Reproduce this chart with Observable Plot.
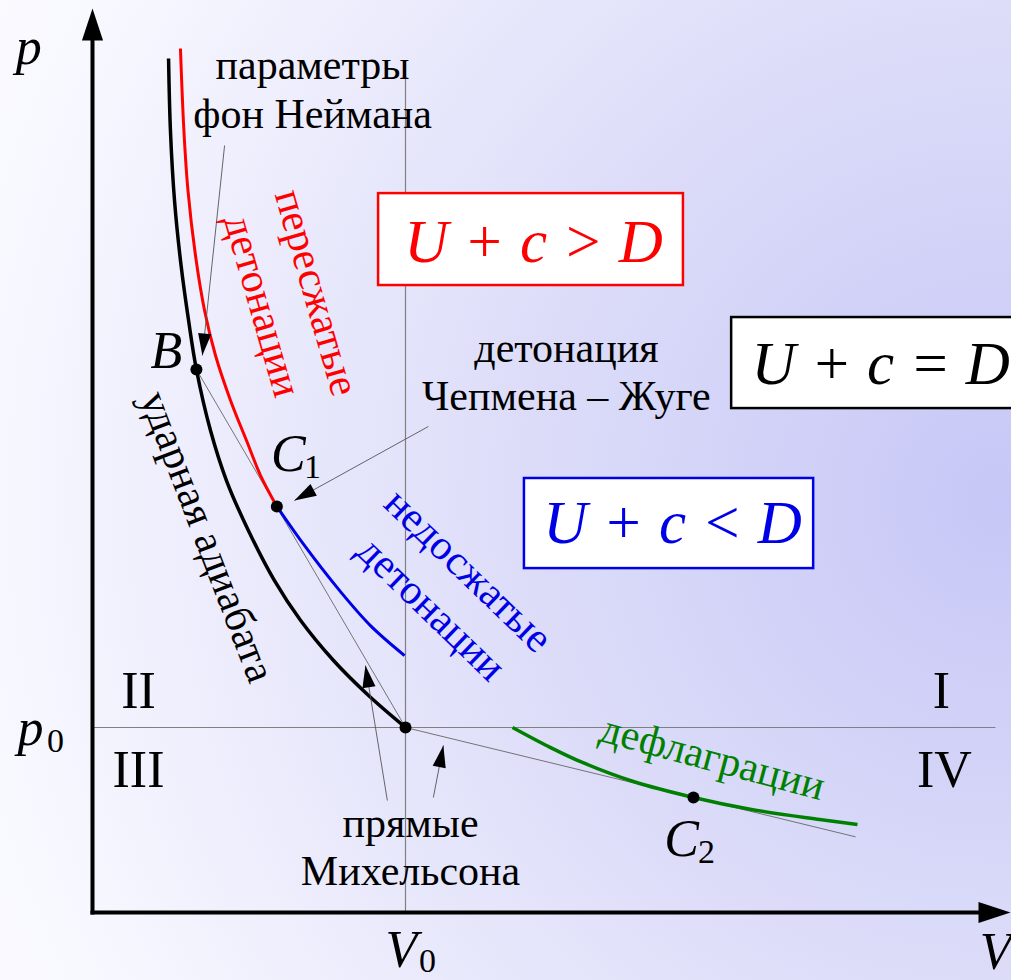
<!DOCTYPE html>
<html>
<head>
<meta charset="utf-8">
<script src="https://cdn.jsdelivr.net/npm/d3@7"></script>
<script src="https://cdn.jsdelivr.net/npm/@observablehq/plot@0.6"></script>
<style>
  html, body { margin: 0; padding: 0; overflow: hidden; background: #fff; }
  #chart svg { display: block; }
</style>
</head>
<body>
<div id="chart"></div>
<script>
// ---------- data (V in units of V0, p in units of p0) ----------
const hugoniot = [[0.243,4.616],[0.249,4.227],[0.262,3.849],[0.283,3.497],[0.307,3.200],[0.332,2.935],[0.377,2.605],[0.428,2.335],[0.498,2.065],[0.581,1.795],[0.665,1.578],[0.770,1.362],[0.882,1.173],[1.000,1.000]];
const overdriven = [[0.281,4.670],[0.292,4.227],[0.305,3.903],[0.329,3.551],[0.358,3.254],[0.393,3.011],[0.441,2.768],[0.492,2.551],[0.537,2.362],[0.589,2.195]];
const underdriven = [[0.589,2.195],[0.677,1.984],[0.789,1.741],[0.888,1.551],[0.997,1.389]];
const deflagration = [[1.342,1.000],[1.457,0.897],[1.565,0.811],[1.728,0.708],[1.920,0.622],[2.105,0.557],[2.323,0.503],[2.444,0.476]];
const initialState = [1, 1];
const pointB = [0.332, 2.935];
const pointC1 = [0.589, 2.195];
const pointC2 = [1.920, 0.622];
const keyPoints = [pointB, pointC1, initialState, pointC2];
const rayleighLines = [
  {from: pointB, to: initialState},
  {from: initialState, to: [2.438, 0.409]}
];
const refLines = [
  {from: [1, 0], to: [1, 4.508]},        // V = V0
  {from: [0, 1], to: [2.885, 1]}         // p = p0
];
const pointers = [
  {from: [0.422, 4.146], to: [0.351, 3.011]},
  {from: [1.073, 2.627], to: [0.645, 2.227]},
  {from: [0.942, 0.605], to: [0.872, 1.335]},
  {from: [1.089, 0.622], to: [1.121, 0.903]}
];
const axisTips = {p: 4.886, V: 2.933};

// text
const notes = [
  {V: 0.703, p: 4.243, text: "параметры\nфон Неймана"},
  {V: 1.514, p: 2.714, text: "детонация\nЧепмена – Жуге"},
  {V: 1.016, p: 0.146, text: "прямые\nМихельсона"}
];
const regions = [
  {V: 0.147, p: 1.103, text: "II"},
  {V: 2.712, p: 1.103, text: "I"},
  {V: 0.147, p: 0.676, text: "III"},
  {V: 2.722, p: 0.676, text: "IV"}
];
const letters = [
  {V: -0.204, p: 4.584, text: "p"},
  {V: -0.198, p: 0.908, text: "p"},
  {V: 0.987, p: -0.297, text: "V"},
  {V: 2.885, p: -0.303, text: "V"},
  {V: 0.236, p: 2.941, text: "B"},
  {V: 0.626, p: 2.389, text: "C"},
  {V: 1.882, p: 0.308, text: "C"}
];
const subscripts = [
  {V: -0.118, p: 0.865, text: "0"},
  {V: 1.070, p: -0.324, text: "0"},
  {V: 0.703, p: 2.346, text: "1"},
  {V: 1.962, p: 0.270, text: "2"}
];
const boxOver = [{x1: 0.914, x2: 1.888, y1: 3.389, y2: 3.886, text: "U + c > D", tx: 1.409, ty: 3.514}];
const boxCJ = [{x1: 2.042, x2: 2.960, y1: 2.724, y2: 3.216, text: "U + c = D", tx: 2.518, ty: 2.859}];
const boxUnder = [{x1: 1.380, x2: 2.304, y1: 1.859, y2: 2.346, text: "U + c < D", tx: 1.853, ty: 1.995}];

// ---------- layout ----------
const W = 1011, H = 980, ML = 92, MB = 68;
const xUnit = 313, yUnit = 185;   // px per V0 and per p0
const FONT = "Liberation Serif";
const RED = "#ff0000", BLUE = "#0000e6", GREEN = "#008000";

const head = (ratio) => ({
  draw(ctx, size) {
    const L = Math.sqrt(size / Math.PI), w = L * ratio / 2;
    ctx.moveTo(0, 0); ctx.lineTo(-w, L); ctx.lineTo(w, L); ctx.closePath();
  }
});
const rot = (a, b) => Math.atan2((b[0] - a[0]) * xUnit, (b[1] - a[1]) * yUnit) * 180 / Math.PI;

const curve = (data, color, w) => Plot.line(data, {x: d => d[0], y: d => d[1], curve: "catmull-rom", stroke: color, strokeWidth: w, strokeLinecap: "butt"});
const link = (data, color, w) => Plot.link(data, {x1: d => d.from[0], y1: d => d.from[1], x2: d => d.to[0], y2: d => d.to[1], stroke: color, strokeWidth: w});
const rotText = (datum, color, angle) => Plot.text([datum], {x: "V", y: "p", text: "text", rotate: angle, fill: color, fontSize: 42, fontFamily: FONT, textAnchor: "middle", lineAnchor: "middle"});
const formula = (box, color) => [
  Plot.rect(box, {x1: "x1", x2: "x2", y1: "y1", y2: "y2", fill: "white", stroke: color, strokeWidth: 2.5}),
  Plot.text(box, {x: "tx", y: "ty", text: "text", fill: color, fontSize: 61, fontStyle: "italic", fontFamily: FONT, textAnchor: "middle", lineAnchor: "bottom"})
];

const plot = Plot.plot({
  width: W, height: H,
  marginLeft: ML, marginRight: 0, marginTop: 0, marginBottom: MB,
  x: {domain: [0, (W - ML) / xUnit], axis: null},
  y: {domain: [0, (H - MB) / yUnit], axis: null},
  style: {
    background: "radial-gradient(circle at 1000px 500px, #c7c7f7 0px, #dcdcf9 470px, #f7f7ff 1000px, #fdfdff 1250px)",
    fontFamily: FONT, overflow: "visible"
  },
  marks: [
    // reference lines V0, p0
    link(refLines, "#808080", 1.2),
    // axes
    Plot.link([{from: [0, 0], to: [0, axisTips.p - 0.16]}, {from: [0, 0], to: [axisTips.V - 0.09, 0]}],
      {x1: d => d.from[0], y1: d => d.from[1], x2: d => d.to[0], y2: d => d.to[1], stroke: "black", strokeWidth: 4, strokeLinecap: "square"}),
    Plot.dot([{V: 0, p: axisTips.p, a: 0}, {V: axisTips.V, p: 0, a: 90}],
      {x: "V", y: "p", rotate: "a", r: 32, symbol: head(0.66), fill: "black", stroke: "none"}),
    // Rayleigh (Michelson) lines
    link(rayleighLines, "#666666", 0.9),
    // curves
    curve(hugoniot, "black", 3.5),
    curve(overdriven, RED, 3),
    curve(underdriven, BLUE, 3),
    curve(deflagration, GREEN, 3.5),
    // pointer lines + heads
    link(pointers, "#555555", 0.9),
    Plot.dot(pointers, {x: d => d.to[0], y: d => d.to[1], rotate: d => rot(d.from, d.to), r: 22, symbol: head(0.6), fill: "black", stroke: "none"}),
    // key points
    Plot.dot(keyPoints, {x: d => d[0], y: d => d[1], r: 6, fill: "black", stroke: "none"}),
    // formula boxes
    ...formula(boxOver, RED),
    ...formula(boxCJ, "black"),
    ...formula(boxUnder, BLUE),
    // notes
    Plot.text(notes, {x: "V", y: "p", text: "text", fontSize: 42, fontFamily: FONT, lineHeight: 1.16, textAnchor: "middle", lineAnchor: "bottom", fill: "black"}),
    // curve labels
    rotText({V: 0.716, p: 3.351, text: "пересжатые"}, RED, 74),
    rotText({V: 0.543, p: 3.281, text: "детонации"}, RED, 74),
    rotText({V: 1.201, p: 1.849, text: "недосжатые"}, BLUE, 44),
    rotText({V: 1.083, p: 1.643, text: "детонации"}, BLUE, 44),
    rotText({V: 0.367, p: 2.032, text: "ударная адиабата"}, "black", 69),
    rotText({V: 1.981, p: 0.838, text: "дефлаграции"}, GREEN, 15),
    // region numerals
    Plot.text(regions, {x: "V", y: "p", text: "text", fontSize: 52, fontFamily: FONT, textAnchor: "middle", lineAnchor: "bottom", fill: "black"}),
    // symbols
    Plot.text(letters, {x: "V", y: "p", text: "text", fontSize: 52, fontStyle: "italic", fontFamily: FONT, textAnchor: "middle", lineAnchor: "bottom", fill: "black"}),
    Plot.text(subscripts, {x: "V", y: "p", text: "text", fontSize: 34, fontFamily: FONT, textAnchor: "middle", lineAnchor: "bottom", fill: "black"})
  ]
});
document.getElementById("chart").append(plot);
</script>
</body>
</html>
